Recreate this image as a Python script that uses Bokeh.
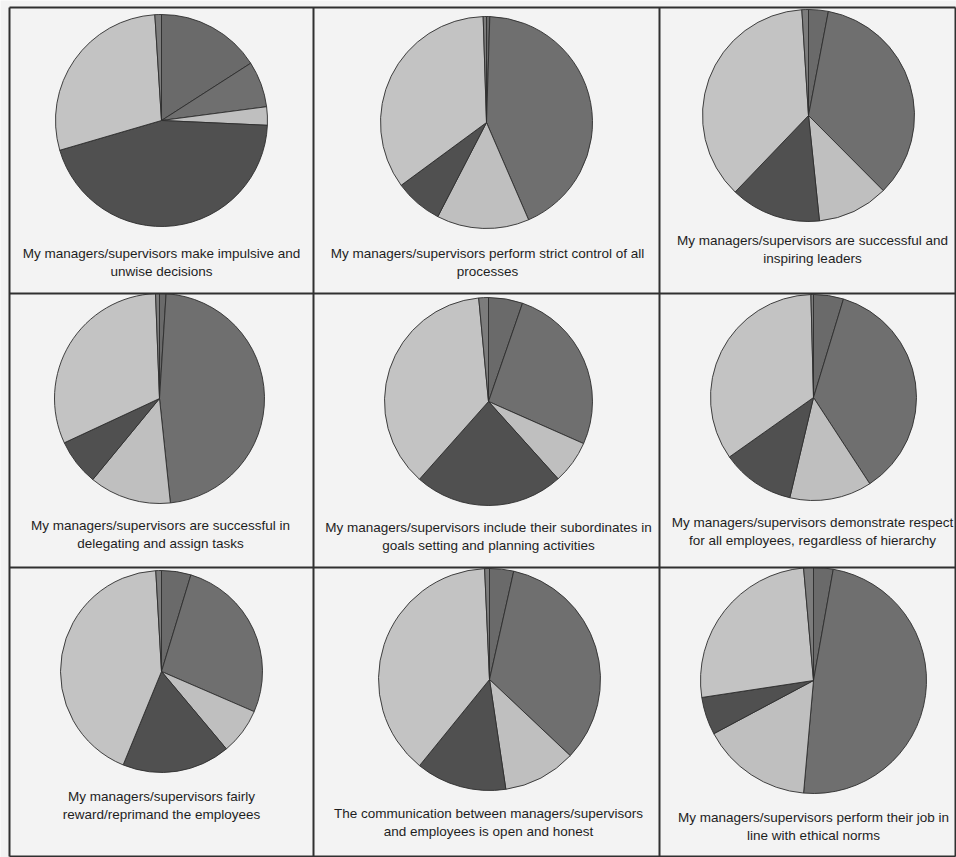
import math
from bokeh.plotting import figure
from bokeh.models import Range1d, ColumnDataSource
from bokeh.core.properties import value
from bokeh.embed import file_html
from bokeh.resources import INLINE

# ---------------- data (percent of respondents, clockwise from 12 o'clock) ----------------
response_levels = ["Level 1", "Level 2", "Level 3", "Level 4", "Level 5", "No answer"]

v_impulsive = [15.9, 7.0, 2.8, 44.7, 28.5, 1.0]
v_strict_control = [0.5, 43.0, 14.1, 7.3, 34.6, 0.5]
v_inspiring = [3.0, 34.5, 10.8, 13.8, 36.8, 1.0]
v_delegating = [1.0, 47.3, 12.6, 7.1, 31.3, 0.6]
v_goals = [5.3, 26.3, 6.7, 23.2, 36.9, 1.5]
v_respect = [4.7, 36.1, 12.9, 11.5, 34.4, 0.4]
v_reward = [4.7, 26.8, 7.4, 17.3, 42.9, 0.9]
v_communication = [3.5, 33.5, 10.6, 13.2, 38.4, 0.7]
v_ethical = [2.8, 48.6, 15.8, 5.4, 26.0, 1.4]

captions = [
    ["My managers/supervisors make impulsive and", "unwise decisions"],
    ["My managers/supervisors perform strict control of all", "processes"],
    ["My managers/supervisors are successful and", "inspiring leaders"],
    ["My managers/supervisors are successful in", "delegating and assign tasks"],
    ["My managers/supervisors include their subordinates in", "goals setting and planning activities"],
    ["My managers/supervisors demonstrate respect", "for all employees, regardless of hierarchy"],
    ["My managers/supervisors fairly", "reward/reprimand the employees"],
    ["The communication between managers/supervisors", "and employees is open and honest"],
    ["My managers/supervisors perform their job in", "line with ethical norms"],
]

all_values = [v_impulsive, v_strict_control, v_inspiring,
              v_delegating, v_goals, v_respect,
              v_reward, v_communication, v_ethical]

# ---------------- layout / style ----------------
W, H = 956, 857
slice_colors = ["#6a6a6a", "#6f6f6f", "#bfbfbf", "#505050", "#c3c3c3", "#7c7c7c"]
col_edges = [9, 313, 659, 955]
row_edges = [7, 293, 567, 856]
pie_centers = [(161, 120), (486, 122), (808, 115),
               (159, 398), (488, 401), (813, 397),
               (161, 671), (489, 679), (813, 680)]
pie_radii = [106, 106, 106, 105, 104, 103, 101, 111, 113]
caption_pos = [(161, 253), (487, 253), (812, 240),
               (160, 525), (488, 527), (812, 522),
               (161, 796), (488, 813), (813, 817)]
line_gap = 18

p = figure(width=W, height=H, x_range=Range1d(0, W), y_range=Range1d(H, 0),
           output_backend="svg", toolbar_location=None, min_border=0)
p.axis.visible = False
p.grid.visible = False
p.outline_line_color = None
p.background_fill_color = "#f3f3f3"
p.border_fill_color = "#f3f3f3"

# pies
for idx, vals in enumerate(all_values):
    cx, cy = pie_centers[idx]
    total = float(sum(vals))
    starts, ends = [], []
    cum = 0.0
    for v in vals:
        a0 = math.pi / 2 - 2 * math.pi * cum / total
        cum += v
        a1 = math.pi / 2 - 2 * math.pi * cum / total
        starts.append(a0)
        ends.append(a1)
    src = ColumnDataSource(dict(
        x=[cx] * len(vals), y=[cy] * len(vals),
        start=starts, end=ends, color=slice_colors[:len(vals)],
        level=response_levels, share=vals))
    p.wedge(x="x", y="y", radius=pie_radii[idx], start_angle="start", end_angle="end",
            direction="clock", fill_color="color", line_color="#2e2e2e",
            line_width=0.9, source=src)

# captions
tx, ty, tt = [], [], []
for idx, lines in enumerate(captions):
    x0, y0 = caption_pos[idx]
    for k, line in enumerate(lines):
        tx.append(x0)
        ty.append(y0 + k * line_gap)
        tt.append(line)
p.text(x=tx, y=ty, text=tt, text_align="center", text_baseline="middle",
       text_font=value("Liberation Sans"), text_font_size="13.5px", text_color="#1e1e1e")

# table grid
for xe in col_edges:
    p.segment(x0=xe, y0=row_edges[0], x1=xe, y1=row_edges[-1], line_color="#303030", line_width=2)
for ye in row_edges:
    p.segment(x0=col_edges[0], y0=ye, x1=col_edges[-1], y1=ye, line_color="#303030", line_width=2)

open("out.html", "w").write(file_html(p, INLINE))
